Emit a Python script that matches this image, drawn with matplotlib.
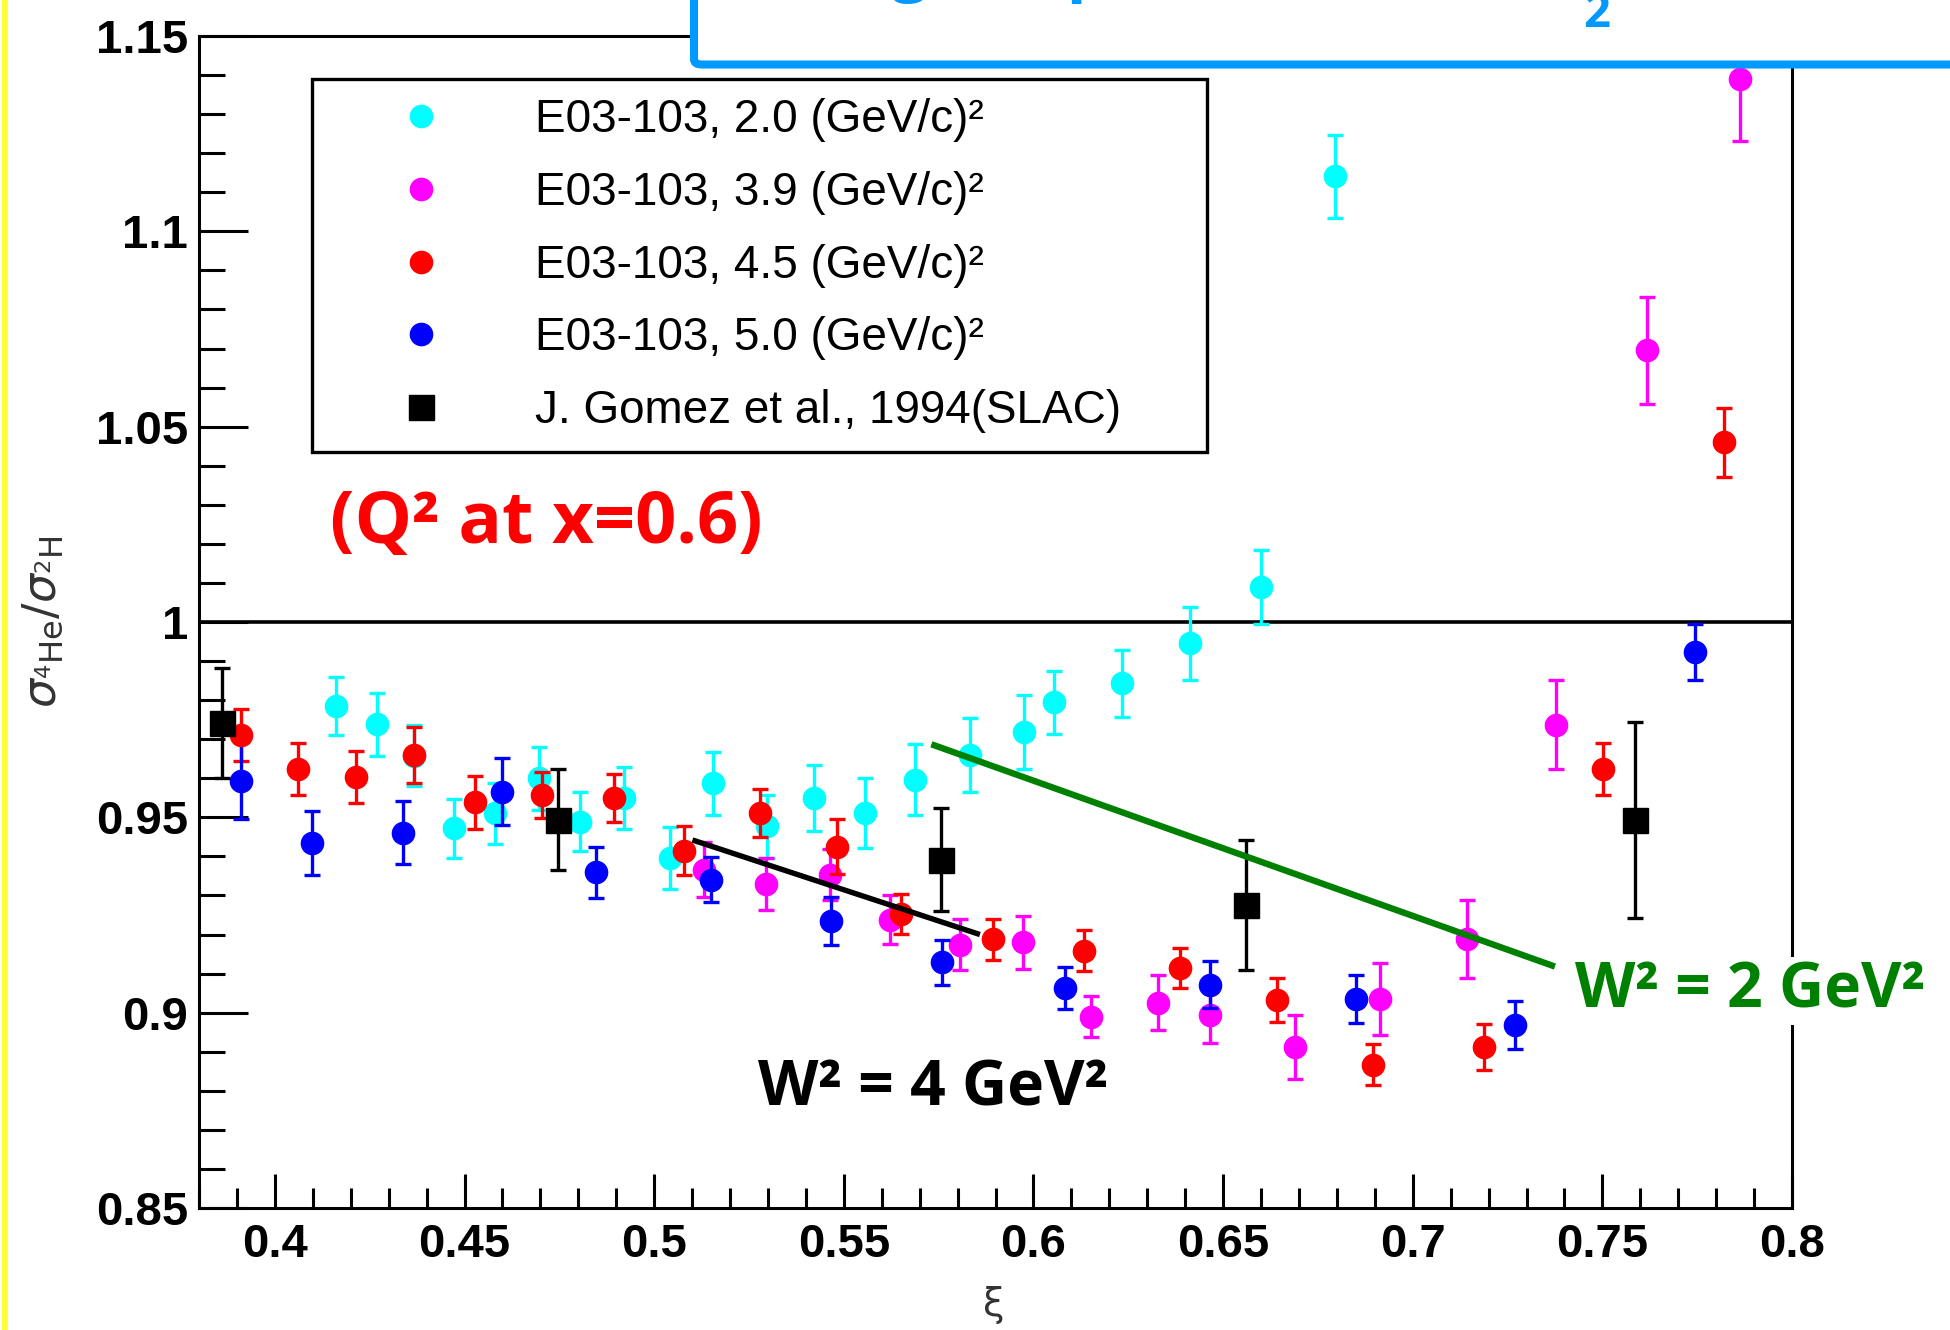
import matplotlib
matplotlib.use("Agg")
import matplotlib.pyplot as plt
from matplotlib import font_manager
from matplotlib.lines import Line2D
from matplotlib.patches import FancyBboxPatch
from matplotlib.ticker import MultipleLocator, FuncFormatter

# E03-103, Q2 = 2.0 (GeV/c)^2
cyan_x = [0.4161, 0.4268, 0.4366, 0.4473, 0.4581, 0.4696, 0.4804, 0.4920, 0.5041, 0.5155,
          0.5298, 0.5421, 0.5555, 0.5689, 0.5832, 0.5974, 0.6053, 0.6234, 0.6412, 0.6601, 0.6796]
cyan_y = [0.9785, 0.9738, 0.9658, 0.9472, 0.9511, 0.9600, 0.9489, 0.9549, 0.9396, 0.9587,
          0.9477, 0.9549, 0.9511, 0.9596, 0.9660, 0.9719, 0.9794, 0.9843, 0.9945, 1.0089, 1.1141]
cyan_e = [0.0075, 0.0081, 0.0078, 0.0076, 0.0078, 0.0081, 0.0075, 0.0080, 0.0080, 0.0081,
          0.0081, 0.0085, 0.0090, 0.0091, 0.0095, 0.0095, 0.0081, 0.0085, 0.0094, 0.0095, 0.0106]

# 3.9 (GeV/c)^2
mag_x = [0.5131, 0.5294, 0.5463, 0.5623, 0.5806, 0.5973, 0.6152, 0.6328, 0.6466, 0.6690,
         0.6914, 0.7144, 0.7378, 0.7618, 0.7862]
mag_y = [0.9366, 0.9329, 0.9353, 0.9238, 0.9174, 0.9180, 0.8990, 0.9026, 0.8995, 0.8912,
         0.9035, 0.9188, 0.9737, 1.0696, 1.1390]
mag_e = [0.0070, 0.0067, 0.0065, 0.0063, 0.0066, 0.0067, 0.0053, 0.0071, 0.0072, 0.0081,
         0.0092, 0.0100, 0.0114, 0.0137, 0.0160]

# 4.5 (GeV/c)^2
red_x = [0.3910, 0.4062, 0.4213, 0.4366, 0.4527, 0.4705, 0.4893, 0.5080, 0.5278, 0.5483,
         0.5650, 0.5894, 0.6134, 0.6386, 0.6642, 0.6895, 0.7188, 0.7503, 0.7820]
red_y = [0.9711, 0.9623, 0.9604, 0.9660, 0.9538, 0.9558, 0.9549, 0.9415, 0.9511, 0.9425,
         0.9253, 0.9188, 0.9159, 0.9114, 0.9033, 0.8867, 0.8912, 0.9623, 1.0460]
red_e = [0.0066, 0.0066, 0.0067, 0.0072, 0.0067, 0.0059, 0.0062, 0.0063, 0.0062, 0.0071,
         0.0052, 0.0052, 0.0052, 0.0052, 0.0057, 0.0053, 0.0058, 0.0066, 0.0088]

# 5.0 (GeV/c)^2
blue_x = [0.3910, 0.4097, 0.4338, 0.4598, 0.4848, 0.5151, 0.5465, 0.5759, 0.6082, 0.6466,
          0.6851, 0.7270, 0.7744]
blue_y = [0.9594, 0.9434, 0.9461, 0.9566, 0.9359, 0.9340, 0.9234, 0.9129, 0.9063, 0.9072,
          0.9035, 0.8969, 0.9924]
blue_e = [0.0099, 0.0081, 0.0081, 0.0085, 0.0066, 0.0058, 0.0061, 0.0058, 0.0053, 0.0060,
          0.0062, 0.0061, 0.0072]

# J. Gomez et al. 1994 (SLAC)
slac_x = [0.3861, 0.4747, 0.5757, 0.6560, 0.7587]
slac_y = [0.9741, 0.9494, 0.9391, 0.9276, 0.9494]
slac_e = [0.0141, 0.0129, 0.0132, 0.0166, 0.0251]

# W^2 guide lines
w2_x = [0.5731, 0.7375]
w2_y = [0.9687, 0.9118]
w4_x = [0.5101, 0.5859]
w4_y = [0.9442, 0.9200]

labels = ["E03-103, 2.0 (GeV/c)\u00b2", "E03-103, 3.9 (GeV/c)\u00b2",
          "E03-103, 4.5 (GeV/c)\u00b2", "E03-103, 5.0 (GeV/c)\u00b2",
          "J. Gomez et al., 1994(SLAC)"]

names = {f.name for f in font_manager.fontManager.ttflist}
narrow = "Liberation Sans Narrow" in names
tfont = "Liberation Sans Narrow" if narrow else "Liberation Sans"
tick_fs = 38 if narrow else 34
leg_fs = 37 if narrow else 33
plt.rcParams["font.family"] = [tfont, "DejaVu Sans"]

W, H = 1950, 1330
fig = plt.figure(figsize=(W / 100, H / 100), dpi=100)
fig.patch.set_facecolor("white")
ax = fig.add_axes([199 / W, 1 - 1208 / H, (1792 - 199) / W, (1208 - 36) / H])

ax.axhline(1.0, color="black", lw=2.6, zorder=1.5)

series = [(cyan_x, cyan_y, cyan_e, "#00ffff", "o", 16),
          (mag_x, mag_y, mag_e, "#ff00ff", "o", 16),
          (red_x, red_y, red_e, "#ff0000", "o", 16),
          (blue_x, blue_y, blue_e, "#0000ff", "o", 16),
          (slac_x, slac_y, slac_e, "#000000", "s", 18)]
handles = []
for i, (x, y, e, c, m, ms) in enumerate(series):
    ax.errorbar(x, y, yerr=e, fmt=m, color=c, ms=ms, elinewidth=2.4,
                capsize=6, capthick=2.4, zorder=2 + i * 0.1)
    handles.append(Line2D([], [], ls="none", marker=m, color=c, ms=ms))

ax.plot(w2_x, w2_y, color="#008000", lw=4.6, solid_capstyle="butt", zorder=3)
ax.plot(w4_x, w4_y, color="black", lw=3.9, solid_capstyle="butt", zorder=3)

ax.set_xlim(0.38, 0.8)
ax.set_ylim(0.85, 1.15)
ax.xaxis.set_major_locator(MultipleLocator(0.05))
ax.xaxis.set_minor_locator(MultipleLocator(0.01))
ax.yaxis.set_major_locator(MultipleLocator(0.05))
ax.yaxis.set_minor_locator(MultipleLocator(0.01))
fmt = FuncFormatter(lambda v, p: "%g" % round(v, 3))
ax.xaxis.set_major_formatter(fmt)
ax.yaxis.set_major_formatter(fmt)
ax.tick_params(which="both", direction="in", top=False, right=False, width=2.2, color="black")
ax.tick_params(axis="y", which="major", length=35, pad=8)
ax.tick_params(axis="y", which="minor", length=18.5)
ax.tick_params(axis="x", which="major", length=24.7, pad=11)
ax.tick_params(axis="x", which="minor", length=14.4)
for lab in ax.get_xticklabels() + ax.get_yticklabels():
    lab.set_fontsize(tick_fs)
    lab.set_fontweight("bold")
for s in ax.spines.values():
    s.set_linewidth(2.2)

leg = ax.legend(handles, labels, loc="upper left", mode="expand",
                bbox_to_anchor=(312 / W, 1 - 447 / H, (1207 - 312) / W, (447 - 79) / H),
                bbox_transform=fig.transFigure, borderaxespad=0, fontsize=leg_fs,
                fancybox=False, framealpha=1, edgecolor="black", borderpad=0.41,
                handlelength=3.94, handletextpad=0.52, labelspacing=0.63)
leg.get_frame().set_linewidth(2.4)

ofont = ["Open Sans", "DejaVu Sans"]
fig.text(330 / W, 1 - 543 / H, "(Q\u00b2 at x=0.6)", color="#ff0000", fontsize=52,
         fontweight="bold", family=ofont, va="baseline", ha="left")
fig.text(758 / W, 1 - 1105 / H, "W\u00b2 = 4 GeV\u00b2", color="black", fontsize=45,
         fontweight="bold", family=ofont, va="baseline", ha="left")
fig.text(1575 / W, 1 - 1007 / H, "W\u00b2 = 2 GeV\u00b2", color="#008000", fontsize=45,
         fontweight="bold", family=ofont, va="baseline", ha="left", zorder=6,
         bbox=dict(facecolor="white", edgecolor="none", pad=2))

# axis titles
fig.text(994 / W, 1 - 1305 / H, "\u03be", fontsize=28, color="#333333", ha="center", va="center",
         family="DejaVu Sans")
fig.text(43 / W, 1 - 622 / H, r"$\sigma_{^{4}\mathrm{He}}/\sigma_{^{2}\mathrm{H}}$", fontsize=33,
         color="#333333", rotation=90, ha="center", va="center")

# slide title box (its text runs off the top of the slide)
box = FancyBboxPatch((694 / W, 1 - 64.5 / H), 0.8, 0.3, transform=fig.transFigure,
                     boxstyle="round,pad=0,rounding_size=0.004", facecolor="white",
                     edgecolor="#0099ff", lw=5.8, zorder=5)
fig.add_artist(box)
fig.text(700 / W, 1 + 12 / H, "Scaling, empirical test of D", color="#0099ff",
         fontsize=47, fontweight="bold", family="Open Sans", va="baseline", ha="left", zorder=6)
fig.text(1583 / W, 1 - 27 / H, "2", color="#0099ff", fontsize=34, fontweight="bold",
         family="Open Sans", va="baseline", ha="left", zorder=6)

# yellow edge of the slide
fig.add_artist(Line2D([4.5 / W, 4.5 / W], [0, 1], transform=fig.transFigure,
                      color="#ffff33", lw=4.3))

fig.savefig("out.png", dpi=100)
